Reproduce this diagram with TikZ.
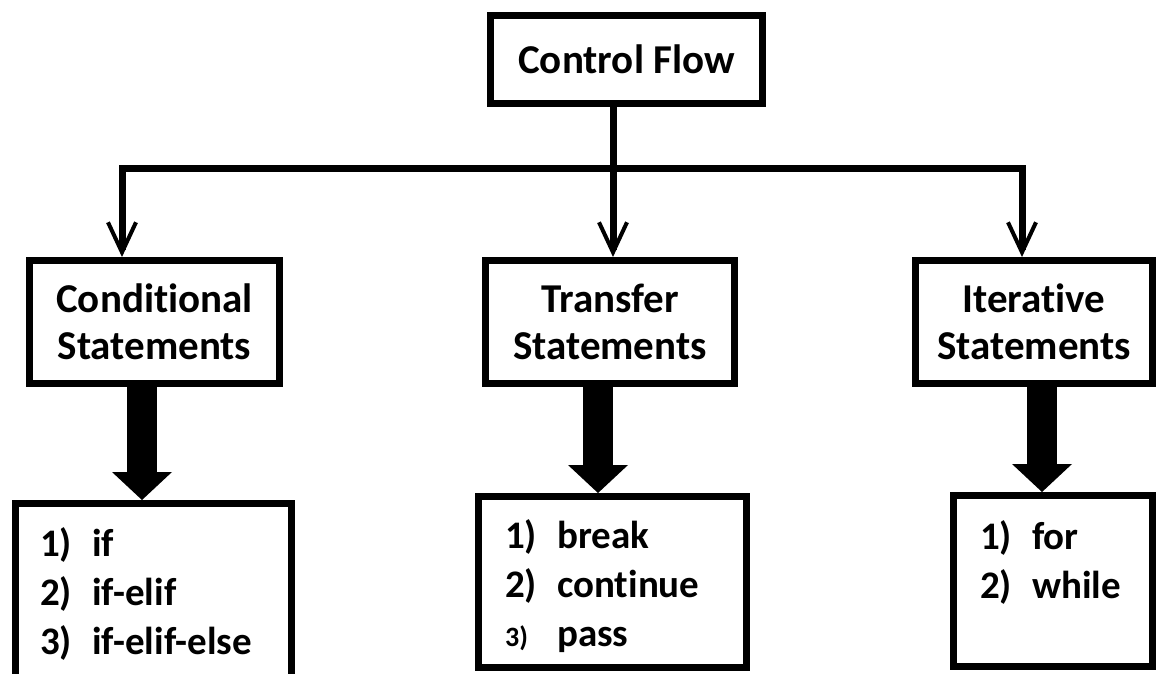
\documentclass[tikz,border=0pt]{standalone}
\usepackage{fontspec}
\setmainfont{Carlito}[Ligatures=NoCommon]
\usetikzlibrary{arrows.meta}
\newcommand{\listentry}[2]{\makebox[52pt][l]{#1}#2}

\begin{document}
\begin{tikzpicture}[x=1pt,y=-1pt]
        \tikzstyle{box}=[draw, line width=7pt, inner sep=0pt, align=center, font=\fontsize{41}{47}\selectfont\bfseries]
        \tikzstyle{listtext}=[anchor=north west, inner sep=0pt, align=left, font=\fontsize{39}{49}\selectfont\bfseries]
        \tikzstyle{flow}=[line width=7pt, {Straight Barb[length=30pt,width=28pt,line width=4pt]}-{Straight Barb[length=30pt,width=28pt,line width=4pt]}]
        \tikzstyle{bigarrow}=[line width=30pt, -{Triangle[length=28pt,width=60pt,line width=0pt]}]
        \useasboundingbox (0,0) rectangle (1156,673);

        % top box
        \node[box, minimum width=272pt, minimum height=88pt] at (626.5, 59.5) (cf) {Control Flow};

        % the three kinds of statements
        \node[box, minimum width=250pt, minimum height=123pt] at (154.5, 322) (cond) {Conditional\\Statements};
        \node[box, minimum width=249pt, minimum height=123pt] at (610, 322) (trans) {Transfer\\Statements};
        \node[box, minimum width=237pt, minimum height=123pt] at (1034, 322) (iter) {Iterative\\Statements};

        % boxes for the lists
        \node[draw, line width=7pt, minimum width=276pt, minimum height=180pt] at (153.5, 593.5) (condlist) {};
        \node[draw, line width=7pt, minimum width=268pt, minimum height=171pt] at (612.5, 582) (translist) {};
        \node[draw, line width=7pt, minimum width=199pt, minimum height=171pt] at (1053, 581) (iterlist) {};

        % the lists themselves
        \node[listtext] at (40, 527) (condtext) {\listentry{1)}{if}\\\listentry{2)}{if-elif}\\\listentry{3)}{if-elif-else}};
        \node[listtext] at (505, 519) (transtext) {\listentry{1)}{break}\\\listentry{2)}{continue}\\\listentry{\fontsize{28}{30}\selectfont 3)}{pass}};
        \node[listtext] at (980, 520) (itertext) {\listentry{1)}{for}\\\listentry{2)}{while}};

        % split point of the connectors
        \coordinate (split) at (613, 168);
        \coordinate (left) at (122, 168);
        \coordinate (right) at (1022, 168);

        % draw the connectors from the top box
        \draw[line width=7pt] (cf.south -| split) -- (split);
        \draw[flow, -{Straight Barb[length=30pt,width=28pt,line width=4pt]}] (split) -- (trans.north -| split);
        \draw[flow] (left |- cond.north) -- (left) -- (right) -- (right |- iter.north);

        % draw the thick arrows down to the lists
        \foreach \a/\b/\x in {cond/condlist/142, trans/translist/598, iter/iterlist/1042}
        {
          \coordinate (\a x) at (\x, 450);
          \draw[bigarrow] (\a.south -| \a x) -- (\b.north -| \a x);
        };
\end{tikzpicture}
\end{document}
